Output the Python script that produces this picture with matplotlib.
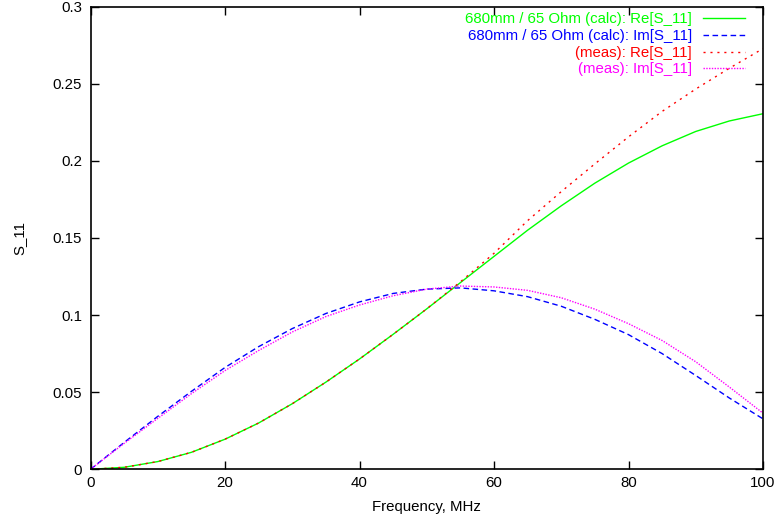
import matplotlib
matplotlib.use("Agg")
import matplotlib.pyplot as plt

# Frequency grid (MHz)
freq = [0, 5, 10, 15, 20, 25, 30, 35, 40, 45, 50, 55, 60, 65, 70, 75, 80, 85, 90, 95, 100]

# Calculated S11 for 680 mm / 65 Ohm line
re_calc = [0.0, 0.0013, 0.0050, 0.0110, 0.0195, 0.0300, 0.0425, 0.0565, 0.0715, 0.0875,
           0.1040, 0.1210, 0.1380, 0.1550, 0.1708, 0.1855, 0.1985, 0.2097, 0.2190, 0.2258, 0.2305]
im_calc = [0.0, 0.0174, 0.0343, 0.0505, 0.0660, 0.0795, 0.0912, 0.1010, 0.1085, 0.1140,
           0.1168, 0.1176, 0.1157, 0.1119, 0.1057, 0.0972, 0.0873, 0.0750, 0.0608, 0.0462, 0.0327]

# Measured S11
re_meas = [0.0, 0.0013, 0.0050, 0.0110, 0.0195, 0.0300, 0.0425, 0.0565, 0.0715, 0.0875,
           0.1040, 0.1215, 0.1400, 0.1612, 0.1800, 0.1980, 0.2155, 0.2320, 0.2465, 0.2600, 0.2727]
im_meas = [0.0, 0.0168, 0.0330, 0.0490, 0.0640, 0.0770, 0.0890, 0.0990, 0.1065, 0.1125,
           0.1168, 0.1188, 0.1182, 0.1160, 0.1112, 0.1038, 0.0944, 0.0835, 0.0697, 0.0533, 0.0364]

labels = ["680mm / 65 Ohm (calc): Re[S_11]",
          "680mm / 65 Ohm (calc): Im[S_11]",
          "(meas): Re[S_11]",
          "(meas): Im[S_11]"]

plt.rcParams['font.family'] = ['Liberation Sans', 'DejaVu Sans']
FS = 10.8

fig = plt.figure(figsize=(7.76, 5.19), dpi=100)
ax = fig.add_axes([90.5 / 776, 1 - 469.3 / 519, (763 - 90.5) / 776, (469.3 - 6.5) / 519])

ax.plot(freq, re_calc, color="#00ff00", lw=1.0, ls="-", label=labels[0])
ax.plot(freq, im_calc, color="#0000ff", lw=1.0, ls=(0, (4, 2.5)), label=labels[1])
ax.plot(freq, re_meas, color="#ff0000", lw=1.0, ls=(0, (1.5, 3.5)), label=labels[2])
ax.plot(freq, im_meas, color="#ff00ff", lw=1.0, ls=(0, (1, 1)), label=labels[3])

ax.set_xlim(0, 100)
ax.set_ylim(0, 0.3)
ax.set_xticks([0, 20, 40, 60, 80, 100])
ax.set_yticks([0, 0.05, 0.1, 0.15, 0.2, 0.25, 0.3])
ax.set_yticklabels(["0", "0.05", "0.1", "0.15", "0.2", "0.25", "0.3"])
ax.tick_params(direction="in", length=6, width=1, top=True, right=True,
               labelsize=FS, colors="black")
ax.tick_params(axis="y", pad=6)
ax.tick_params(axis="x", pad=5)
for s in ax.spines.values():
    s.set_linewidth(1.2)

ax.set_xlabel("Frequency, MHz", fontsize=FS, labelpad=7)
ax.set_ylabel("S_11", fontsize=FS, labelpad=19)

leg = ax.legend(loc="upper right", bbox_to_anchor=(0.98, 0.997), frameon=False,
                markerfirst=False, labelcolor="linecolor", fontsize=FS,
                handlelength=2.8, handletextpad=0.75, labelspacing=0.18,
                borderaxespad=0.0, borderpad=0.3)

fig.savefig("out.png", dpi=100)
